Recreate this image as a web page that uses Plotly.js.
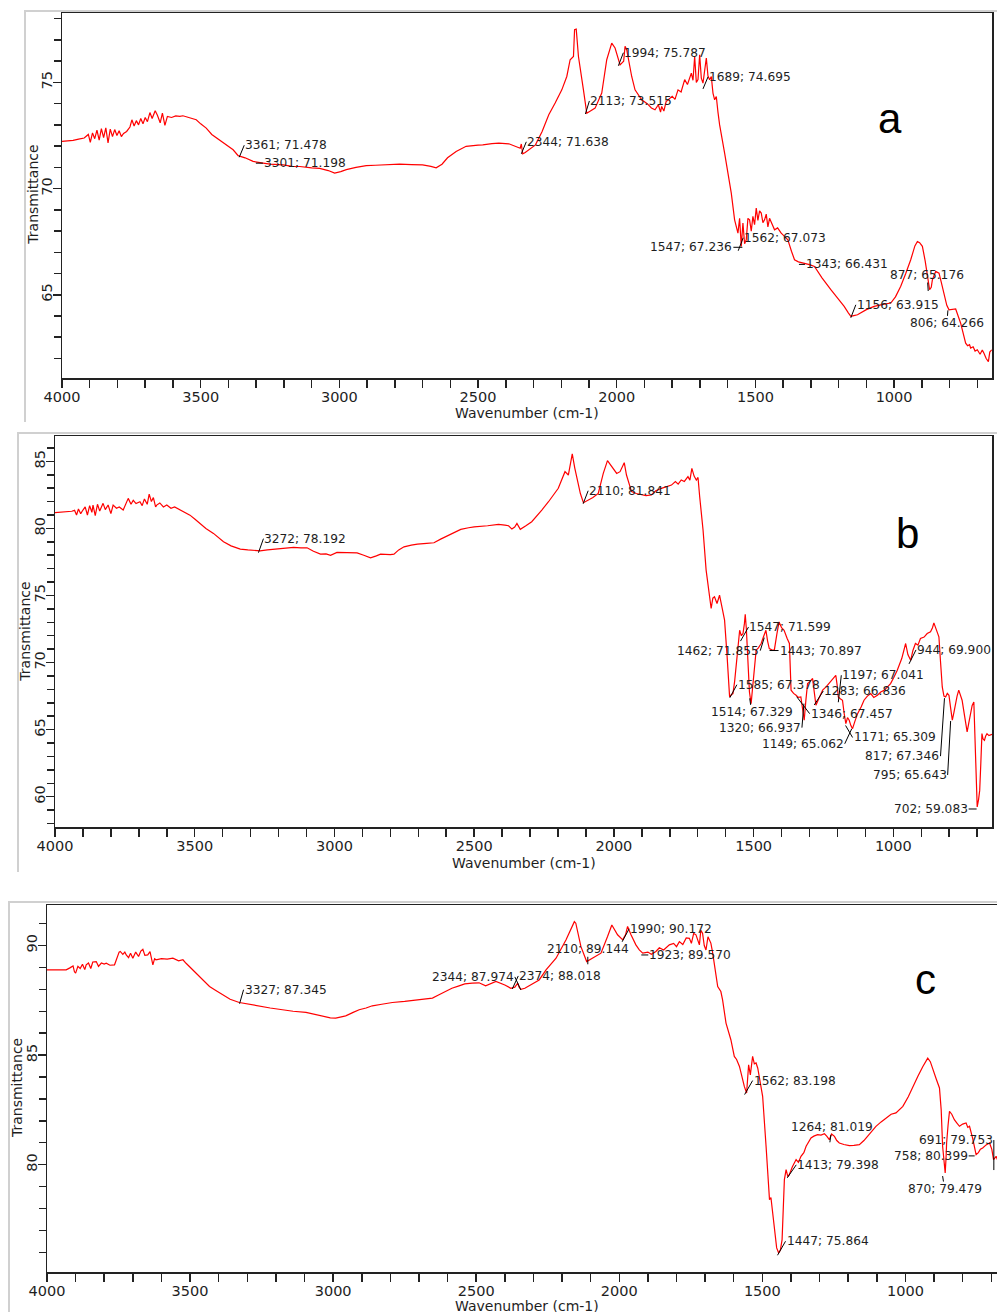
<!DOCTYPE html>
<html><head><meta charset="utf-8">
<script src="https://cdn.plot.ly/plotly-3.0.1.min.js"></script>
<style>
html,body{margin:0;padding:0;background:#fff;overflow:hidden;width:997px;height:1312px;position:relative;}
.frame{position:absolute;border-left:2px solid #d0d0d0;border-top:2px solid #d0d0d0;box-sizing:border-box;}
.panel{position:absolute;left:0;}
</style></head><body>
<div class="frame" style="left:24px;top:10px;width:973px;height:412px"></div>
<div class="frame" style="left:17px;top:432px;width:980px;height:440px"></div>
<div class="frame" style="left:8px;top:901px;width:989px;height:411px"></div>
<div id="pa" class="panel" style="top:0px;width:997px;height:430px"></div>
<div id="pb" class="panel" style="top:430px;width:997px;height:440px"></div>
<div id="pc" class="panel" style="top:880px;width:1010px;height:432px"></div>
<script>
// ---------------- DATA ----------------
const waveA = [4000,3980,3960,3940,3920,3905,3898,3890,3882,3874,3866,3858,3850,3842,3834,3826,3818,3810,3802,3794,3786,3778,3767,3755,3748,3740,3732,3724,3716,3708,3700,3692,3683,3675,3664,3656,3646,3638,3629,3620,3605,3590,3575,3564,3545,3530,3516,3500,3480,3460,3432,3410,3383,3365,3340,3311,3290,3275,3250,3203,3170,3143,3100,3071,3040,3017,2995,2975,2940,2903,2870,2843,2800,2783,2740,2700,2670,2651,2630,2610,2579,2543,2500,2483,2450,2425,2389,2360,2348,2344,2339,2330,2317,2293,2269,2245,2222,2198,2180,2168,2156,2152,2146,2138,2120,2108,2095,2078,2054,2036,2018,2006,1988,1975,1970,1964,1946,1934,1910,1890,1875,1862,1850,1842,1838,1830,1822,1814,1800,1790,1779,1768,1755,1745,1731,1725,1719,1713,1707,1701,1695,1689,1683,1677,1671,1665,1659,1653,1647,1641,1635,1629,1611,1587,1575,1563,1557,1551,1545,1539,1533,1527,1521,1515,1509,1503,1497,1491,1485,1479,1473,1467,1461,1455,1449,1440,1431,1420,1407,1395,1383,1370,1359,1345,1323,1305,1287,1260,1228,1200,1180,1165,1156,1145,1132,1100,1072,1040,1012,995,976,958,940,925,916,908,898,888,880,872,866,862,850,838,830,820,810,802,790,778,760,750,742,735,728,724,715,708,700,690,682,676,668,660,655,648];
const transA = [72.22,72.24,72.27,72.33,72.38,72.55,72.18,72.62,72.35,72.75,72.28,72.82,72.4,72.86,72.15,72.8,72.45,72.78,72.5,72.72,72.45,72.6,72.69,72.9,73.24,72.95,73.2,73.0,73.3,73.05,73.35,73.15,73.58,73.3,73.67,73.45,73.1,73.56,72.98,73.4,73.35,73.42,73.4,73.43,73.35,73.3,73.24,73.05,72.85,72.55,72.3,72.1,71.83,71.55,71.45,71.28,71.22,71.2,71.15,71.12,71.05,71.04,70.98,70.95,70.85,70.73,70.8,70.89,71.0,71.08,71.1,71.12,71.14,71.15,71.13,71.12,71.05,70.98,71.15,71.45,71.75,71.99,72.05,72.06,72.12,72.14,72.11,71.95,71.9,72.1,71.64,71.7,71.83,72.06,72.69,73.48,74.03,74.65,75.28,76.07,76.22,77.48,77.51,76.22,74.65,73.55,73.65,73.79,74.5,76.07,76.85,76.62,75.83,76.0,76.7,76.54,75.28,74.65,74.18,74.0,73.8,73.71,73.95,73.6,73.87,73.65,74.1,74.18,74.35,74.2,74.65,74.55,75.13,74.9,75.44,75.1,76.22,75.0,75.13,76.3,75.2,74.97,75.6,76.15,75.3,75.13,75.28,74.5,74.18,74.34,73.6,73.0,71.67,69.79,68.53,67.9,68.6,67.28,68.38,67.4,67.59,68.6,68.53,68.0,68.69,68.3,69.08,68.5,68.95,68.85,68.4,68.53,68.8,68.2,68.6,68.3,68.06,68.15,67.9,67.75,67.59,67.05,66.65,66.55,66.49,66.42,66.33,65.8,65.24,64.8,64.45,64.15,63.98,64.02,64.06,64.3,64.45,64.55,64.61,64.9,65.4,66.0,66.65,67.3,67.51,67.45,67.28,66.6,66.02,65.24,65.35,65.7,66.1,66.02,65.6,65.08,64.5,64.29,64.3,64.33,63.66,63.1,62.72,62.6,62.65,62.49,62.55,62.35,62.41,62.2,62.4,62.25,62.0,61.85,62.3,62.41];

const waveB = [4000,3980,3960,3940,3930,3923,3916,3908,3900,3892,3884,3876,3868,3864,3856,3848,3840,3828,3820,3810,3800,3792,3780,3770,3756,3745,3738,3728,3720,3710,3696,3688,3680,3670,3663,3655,3648,3640,3636,3625,3612,3600,3585,3572,3553,3535,3517,3500,3481,3460,3433,3415,3397,3370,3337,3310,3290,3266,3240,3218,3180,3146,3120,3098,3075,3050,3030,3014,2991,2960,2919,2895,2871,2850,2835,2800,2787,2770,2751,2725,2703,2670,2644,2620,2596,2570,2548,2520,2500,2452,2413,2390,2377,2365,2355,2347,2335,2315,2294,2258,2234,2199,2175,2163,2149,2140,2133,2120,2109,2092,2075,2056,2038,2023,2005,1990,1978,1963,1955,1937,1920,1901,1885,1866,1850,1830,1815,1794,1780,1770,1759,1748,1735,1728,1721,1713,1705,1699,1693,1681,1670,1660,1652,1646,1640,1631,1622,1612,1604,1595,1586,1580,1574,1568,1562,1556,1550,1544,1538,1533,1530,1526,1521,1515,1509,1503,1497,1491,1483,1473,1465,1456,1450,1444,1435,1426,1417,1409,1400,1391,1380,1372,1366,1357,1348,1340,1331,1325,1319,1313,1307,1298,1289,1283,1277,1265,1253,1240,1230,1218,1206,1201,1197,1190,1182,1176,1170,1164,1158,1152,1146,1138,1128,1115,1105,1093,1081,1070,1057,1045,1033,1020,1010,998,986,970,956,948,938,930,921,912,903,890,879,867,860,855,848,837,831,825,819,813,807,801,795,789,783,778,772,766,760,754,745,736,730,724,718,712,706,700,695,691,687,683,679,674,670,665,658,652,647];
const transB = [81.17,81.2,81.25,81.28,81.35,81.0,81.45,81.1,81.37,81.6,81.0,81.7,81.2,81.74,80.95,81.8,81.3,81.87,81.4,81.75,81.1,81.74,81.5,81.6,81.37,81.9,82.24,81.8,82.1,81.85,81.99,81.7,82.2,81.8,82.56,82.0,82.3,81.6,81.74,81.9,81.6,81.74,81.5,81.6,81.37,81.15,80.99,80.7,80.37,80.0,79.63,79.3,79.0,78.7,78.46,78.4,78.35,78.33,78.4,78.43,78.5,78.58,78.55,78.56,78.3,78.08,78.1,78.0,78.21,78.2,78.18,78.0,77.81,77.95,78.08,78.05,78.08,78.4,78.63,78.75,78.83,78.88,78.93,79.2,79.43,79.7,79.93,80.05,80.12,80.2,80.3,80.25,80.2,79.95,80.1,80.37,79.93,80.2,80.5,81.37,81.99,82.99,84.23,83.98,85.55,84.5,83.86,82.6,81.92,82.11,82.3,82.61,84.1,85.05,84.5,84.1,84.23,84.9,83.98,82.74,82.6,82.54,82.45,82.49,82.8,82.99,83.1,83.23,83.5,83.3,83.61,83.5,83.86,83.6,84.48,83.9,83.61,83.8,82.36,79.88,76.89,75.5,74.03,74.8,74.9,74.4,75.02,74.0,73.16,70.5,67.44,67.6,67.69,68.6,69.93,71.2,72.41,72.0,72.16,72.9,73.6,72.5,69.93,67.8,66.94,68.3,69.9,70.92,71.1,71.42,71.9,72.41,71.6,71.04,70.95,70.92,72.1,73.03,72.6,72.41,71.8,71.42,67.94,67.7,67.56,67.4,67.44,66.5,65.7,67.2,68.43,68.6,68.81,67.8,66.82,67.4,67.94,68.2,68.43,68.7,69.05,68.3,67.44,67.3,67.19,66.2,65.45,65.9,65.7,65.3,65.07,65.6,66.19,66.7,67.19,67.5,67.69,67.4,67.56,67.8,67.94,68.2,68.43,68.9,69.43,70.3,71.42,70.6,70.17,70.9,71.42,71.3,71.79,71.9,72.16,72.29,72.6,72.96,72.6,71.92,70.0,68.18,67.5,67.44,67.7,67.56,66.6,65.7,66.3,66.94,67.5,67.94,67.6,67.19,66.0,64.83,65.5,66.19,66.8,67.06,63.0,59.23,59.8,60.47,62.5,64.7,64.3,64.2,64.5,64.7,64.55,64.6,64.65];

const waveC = [4000,3970,3950,3933,3920,3909,3904,3900,3892,3884,3876,3868,3863,3855,3847,3840,3828,3820,3810,3800,3793,3780,3764,3756,3748,3744,3735,3728,3723,3715,3708,3700,3690,3680,3672,3665,3658,3648,3640,3630,3624,3619,3600,3580,3560,3540,3525,3514,3491,3467,3450,3432,3410,3386,3360,3328,3290,3258,3220,3177,3140,3095,3060,3037,3010,2991,2975,2956,2930,2909,2885,2863,2830,2793,2750,2711,2680,2653,2630,2607,2585,2560,2540,2514,2490,2467,2445,2431,2400,2379,2365,2355,2350,2344,2330,2315,2280,2256,2221,2186,2169,2157,2152,2134,2114,2093,2064,2041,2026,2006,1988,1978,1971,1959,1942,1930,1918,1900,1888,1872,1860,1845,1825,1810,1800,1790,1778,1766,1755,1748,1740,1732,1726,1720,1715,1709,1703,1697,1690,1680,1674,1668,1656,1645,1639,1627,1618,1610,1598,1590,1580,1572,1563,1555,1550,1548,1542,1534,1528,1522,1516,1510,1499,1487,1475,1470,1458,1450,1443,1437,1431,1423,1417,1411,1406,1395,1382,1374,1365,1355,1347,1338,1330,1320,1307,1295,1283,1275,1266,1258,1248,1240,1231,1215,1196,1180,1161,1145,1132,1118,1103,1085,1068,1050,1033,1020,1009,990,974,956,939,930,922,913,904,892,881,875,870,864,861,858,856,851,846,838,829,820,811,800,788,782,776,765,753,745,738,730,718,706,698,692,683,675,665,655,645];
const transC = [88.89,88.88,88.9,88.89,88.98,89.07,88.8,88.74,89.05,88.95,89.15,88.9,89.12,89.2,88.95,89.25,89.27,89.05,89.2,89.15,89.19,89.1,89.12,89.4,89.7,89.73,89.6,89.7,89.57,89.45,89.65,89.42,89.7,89.5,89.75,89.83,89.55,89.57,89.72,89.12,89.4,89.35,89.4,89.38,89.42,89.3,89.35,89.19,88.89,88.59,88.4,88.13,87.95,87.75,87.55,87.4,87.3,87.22,87.15,87.07,87.0,86.95,86.85,86.76,86.7,86.69,86.72,86.79,86.95,87.07,87.15,87.25,87.32,87.4,87.45,87.52,87.55,87.6,87.75,87.9,88.05,88.16,88.25,88.28,88.3,88.16,88.3,88.36,88.2,88.05,88.1,88.28,88.1,88.0,88.05,88.16,88.43,88.89,89.42,90.26,90.71,91.09,91.02,89.95,89.27,89.42,89.65,90.41,90.94,90.49,90.26,90.5,90.87,90.49,90.03,89.8,89.65,89.7,89.6,89.73,89.9,89.8,90.03,90.1,89.95,90.18,90.05,90.35,90.33,90.1,90.55,90.49,90.2,90.03,90.7,90.56,90.0,89.8,90.4,90.11,89.7,89.19,88.13,87.9,87.52,86.46,86.0,85.7,84.94,84.8,84.48,84.0,83.57,83.27,84.3,84.56,84.1,84.94,84.6,84.64,84.4,83.88,83.12,80.84,78.4,78.5,77.04,76.2,75.97,76.1,76.58,79.32,79.77,79.45,79.54,79.9,80.23,80.1,80.38,80.55,80.84,81.05,81.22,81.3,81.37,81.35,81.41,81.3,81.14,81.4,81.29,81.1,80.99,80.92,80.87,80.88,80.91,81.1,81.29,81.5,81.75,81.95,82.13,82.3,82.36,82.5,82.66,83.1,83.57,84.05,84.48,84.7,84.86,84.7,84.33,83.9,83.5,82.5,80.84,79.8,79.62,80.3,80.99,81.8,82.43,82.3,82.05,81.9,81.75,81.85,81.9,81.7,81.75,81.2,80.46,80.55,80.7,80.76,80.9,80.99,80.7,80.23,80.38,80.1,80.0,80.1,80.0];

// labelled peaks (wavenumber; transmittance)
const peakWaveA = [3361,3301,2344,2113,1994,1689,1547,1562,1343,877,1156,806];
const peakTransA = [71.478,71.198,71.638,73.515,75.787,74.695,67.236,67.073,66.431,65.176,63.915,64.266];
const peakWaveB = [3272,2110,1547,1462,1443,1585,1514,1320,1346,1283,1197,1171,1149,944,817,795,702];
const peakTransB = [78.192,81.841,71.599,71.855,70.897,67.378,67.329,66.937,67.457,66.836,67.041,65.309,65.062,69.900,67.346,65.643,59.083];
const peakWaveC = [3327,2344,2374,2110,1990,1923,1562,1447,1413,1264,870,758,691];
const peakTransC = [87.345,87.974,88.018,89.144,90.172,89.570,83.198,75.864,79.398,81.019,79.479,80.399,79.753];

const xTickVals = [4000,3500,3000,2500,2000,1500,1000];
const xTickText = ['4000','3500','3000','2500','2000','1500','1000'];
const panelLetters = ['a','b','c'];
const xTitle = 'Wavenumber (cm-1)';
const yTitle = 'Transmittance';

// ---------------- LAYOUT / STYLE ----------------
// label offsets in px: [ax, ay, xanchor]
const offA = [[5,-12,'left'],[7,0,'left'],[5,-12,'left'],[4,-13,'left'],[5,-13,'left'],[5,-12,'left'],[-9,0,'right'],[5,-13,'left'],[6,0,'left'],[-1,-16,'center'],[5,-13,'left'],[-1,13,'center']];
const offB = [[5,-14,'left'],[5,-13,'left'],[8,-14,'left'],[-4,13,'right'],[9,0,'left'],[7,-13,'left'],[2,14,'center'],[-2,24,'right'],[13,17,'left'],[9,-14,'left'],[3,-27,'left'],[7,12,'left'],[-7,15,'right'],[7,-14,'left'],[-4,58,'right'],[-3,54,'right'],[-8,0,'right']];
const offC = [[4,-14,'left'],[-6,-13,'right'],[6,-13,'left'],[0,-15,'center'],[7,-13,'left'],[7,0,'left'],[8,-14,'left'],[8,-14,'left'],[9,-13,'left'],[2,-15,'center'],[2,13,'center'],[-6,0,'right'],[0,-30,'right']];

// panel geometry (px, relative to each panel div)
const geo = [
  {id:'pa', top:0,   w:997,  h:430, l:62,   r:5, t:13, b:52,   xr:[4000,647], yr:[61.08,78.27],
   letter:[889.7,118.7], xt:[527,413], yt:[32.7,195]},
  {id:'pb', top:430, w:997,  h:440, l:55.3, r:5, t:6,  b:43.3, xr:[4000,647], yr:[57.74,86.89],
   letter:[907.3,533.3], xt:[523.7,863], yt:[25.8,631]},
  {id:'pc', top:880, w:1010, h:432, l:47.3, r:3, t:25, b:39.7, xr:[4000,645], yr:[75.1,91.85],
   letter:[925.3,979.3], xt:[527.2,1306.7], yt:[17.5,1088]}
];
const series = [[waveA,transA,peakWaveA,peakTransA,offA],[waveB,transB,peakWaveB,peakTransB,offB],[waveC,transC,peakWaveC,peakTransC,offC]];

const FONT = 'DejaVu Sans, Verdana, sans-serif';
const INK = '#1e1e1e';

geo.forEach((g, i) => {
  const [wv, tr, pw, pt, off] = series[i];
  const pw_ = g.w - g.l - g.r, ph_ = g.h - g.t - g.b;
  const px = x => (x - g.l) / pw_;
  const py = y => 1 - (y - g.top - g.t) / ph_;

  const anns = pw.map((w, k) => ({
    x: w, y: pt[k], xref: 'x', yref: 'y',
    text: w + '; ' + pt[k].toFixed(3),
    showarrow: true, arrowhead: 0, arrowwidth: 1, arrowcolor: '#000',
    ax: off[k][0], ay: off[k][1], xanchor: off[k][2], yanchor: 'middle',
    standoff: 0, startstandoff: 0, borderpad: 0,
    font: {family: FONT, size: 12.2, color: INK}
  }));
  anns.push({xref:'paper', yref:'paper', x: px(g.letter[0]), y: py(g.letter[1]), text: panelLetters[i],
    showarrow:false, xanchor:'center', yanchor:'middle', font:{family:'Liberation Sans, Arial, sans-serif', size:42, color:'#000'}});
  anns.push({xref:'paper', yref:'paper', x: px(g.xt[0]), y: py(g.xt[1]), text: xTitle,
    showarrow:false, xanchor:'center', yanchor:'middle', font:{family:FONT, size:14, color:INK}});
  anns.push({xref:'paper', yref:'paper', x: px(g.yt[0]), y: py(g.yt[1]), text: yTitle, textangle:-90,
    showarrow:false, xanchor:'center', yanchor:'middle', font:{family:FONT, size:14, color:INK}});

  const trace = {x: wv, y: tr, type:'scatter', mode:'lines', line:{color:'#ff0000', width:1.2}, hoverinfo:'skip'};
  const axisCommon = {showgrid:false, zeroline:false, showline:true, mirror:true, linecolor:'#222', linewidth:1.5,
    ticks:'outside', ticklen:8, tickwidth:1.5, tickcolor:'#222',
    tickfont:{family:FONT, size:14.5, color:INK}};
  const layout = {
    width: g.w, height: g.h,
    margin: {l:g.l, r:g.r, t:g.t, b:g.b, pad:0},
    paper_bgcolor:'rgba(0,0,0,0)', plot_bgcolor:'#fff',
    showlegend:false,
    xaxis: Object.assign({}, axisCommon, {range: g.xr, tickvals: xTickVals, ticktext: xTickText, ticklabelstandoff:-3,
      minor:{dtick:100, tick0:0, ticks:'outside', ticklen:8, tickwidth:1.5, tickcolor:'#222', showgrid:false}}),
    yaxis: Object.assign({}, axisCommon, {range: g.yr, dtick:5, tick0:0, tickangle:-90, ticklabelstandoff:-5,
      minor:{dtick:1, tick0:0, ticks:'outside', ticklen:7, tickwidth:1.5, tickcolor:'#222', showgrid:false}}),
    annotations: anns
  };
  Plotly.newPlot(g.id, [trace], layout, {staticPlot:true, displayModeBar:false});
});
</script>
</body></html>
